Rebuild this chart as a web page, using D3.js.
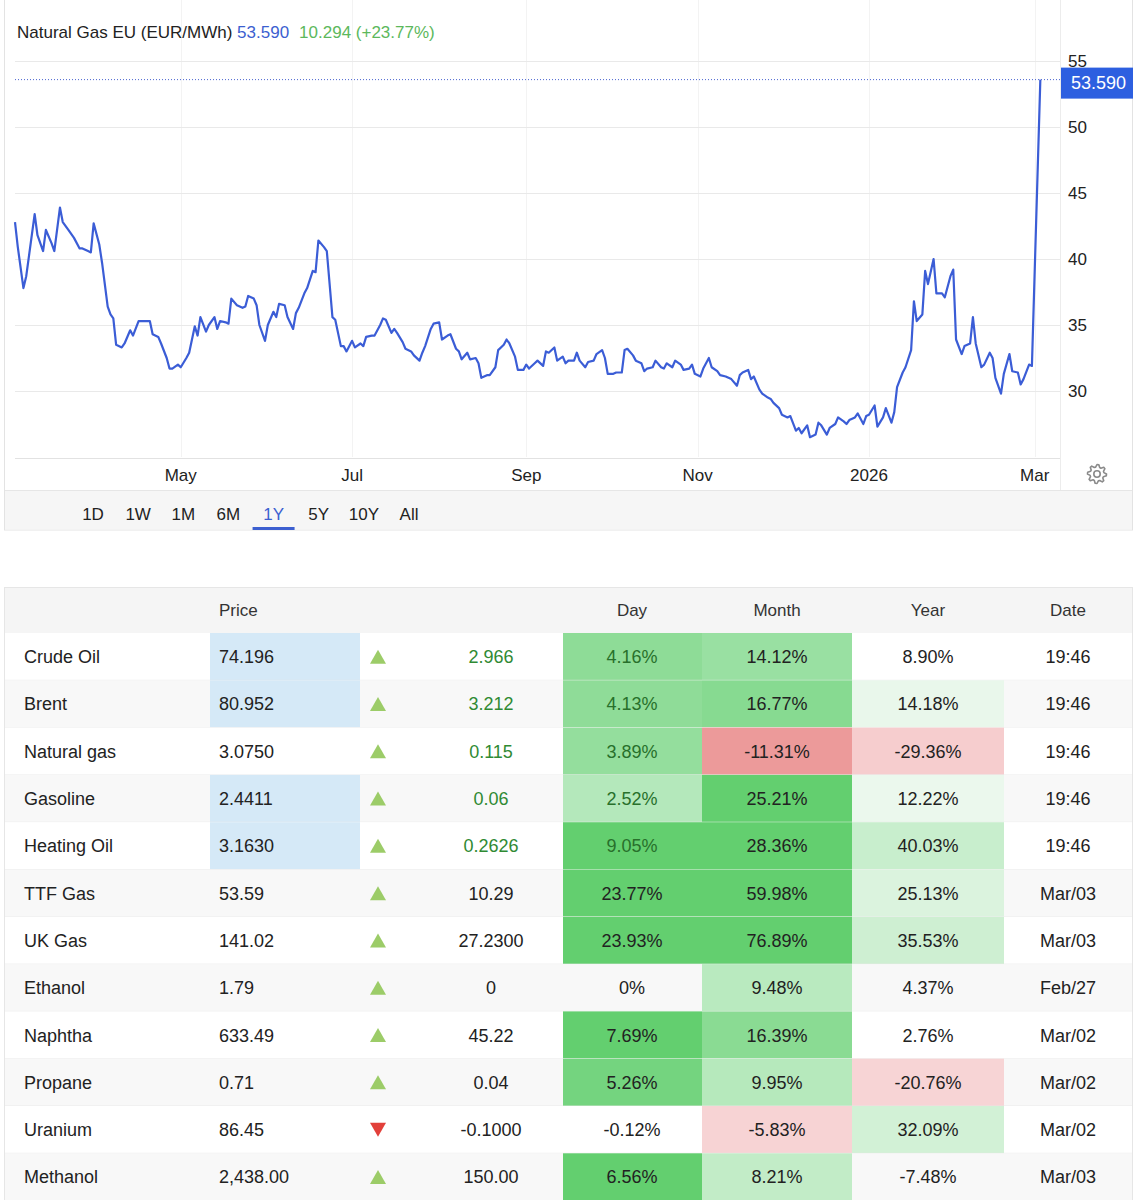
<!DOCTYPE html>
<html>
<head>
<meta charset="utf-8">
<script src="https://cdn.jsdelivr.net/npm/d3@7"></script>
<style>
	body { margin: 0; background: #fff; }
	svg text { font-family: "Liberation Sans", Arial, sans-serif; }
</style>
</head>
<body>
<div id="wrapper"></div>
<script>

// 1. Data

const title = "Natural Gas EU (EUR/MWh)";
const lastPrice = 53.590;
const lastChange = 10.294;
const lastChangePct = 23.77;

const priceDates = [
	"2025-03-03","2025-03-04","2025-03-06","2025-03-07","2025-03-10","2025-03-11","2025-03-13","2025-03-14","2025-03-16","2025-03-17",
	"2025-03-19","2025-03-20","2025-03-22","2025-03-24","2025-03-26","2025-03-27","2025-03-29","2025-03-30","2025-03-31","2025-04-02",
	"2025-04-03","2025-04-05","2025-04-06","2025-04-07","2025-04-08","2025-04-10","2025-04-11","2025-04-13","2025-04-14","2025-04-16",
	"2025-04-18","2025-04-20","2025-04-21","2025-04-23","2025-04-24","2025-04-26","2025-04-27","2025-04-28","2025-04-30","2025-05-01",
	"2025-05-03","2025-05-04","2025-05-06","2025-05-07","2025-05-08","2025-05-10","2025-05-11","2025-05-13","2025-05-14","2025-05-15",
	"2025-05-17","2025-05-18","2025-05-19","2025-05-21","2025-05-23","2025-05-24","2025-05-25","2025-05-27","2025-05-28","2025-05-29",
	"2025-05-31","2025-06-01","2025-06-03","2025-06-04","2025-06-05","2025-06-07","2025-06-08","2025-06-10","2025-06-11","2025-06-12",
	"2025-06-14","2025-06-15","2025-06-17","2025-06-18","2025-06-19","2025-06-21","2025-06-22","2025-06-24","2025-06-25","2025-06-27",
	"2025-06-28","2025-06-29","2025-07-01","2025-07-02","2025-07-04","2025-07-05","2025-07-06","2025-07-08","2025-07-09","2025-07-11",
	"2025-07-12","2025-07-13","2025-07-15","2025-07-16","2025-07-17","2025-07-19","2025-07-20","2025-07-22","2025-07-23","2025-07-25",
	"2025-07-26","2025-07-27","2025-07-29","2025-07-30","2025-08-01","2025-08-02","2025-08-04","2025-08-05","2025-08-07","2025-08-08",
	"2025-08-09","2025-08-11","2025-08-12","2025-08-14","2025-08-15","2025-08-16","2025-08-18","2025-08-19","2025-08-21","2025-08-22",
	"2025-08-24","2025-08-25","2025-08-26","2025-08-28","2025-08-29","2025-08-31","2025-09-01","2025-09-02","2025-09-04","2025-09-05",
	"2025-09-07","2025-09-08","2025-09-09","2025-09-11","2025-09-12","2025-09-14","2025-09-15","2025-09-16","2025-09-18","2025-09-19",
	"2025-09-20","2025-09-22","2025-09-23","2025-09-25","2025-09-26","2025-09-28","2025-09-29","2025-09-30","2025-10-02","2025-10-03",
	"2025-10-05","2025-10-06","2025-10-07","2025-10-09","2025-10-10","2025-10-12","2025-10-13","2025-10-14","2025-10-16","2025-10-17",
	"2025-10-19","2025-10-20","2025-10-21","2025-10-23","2025-10-24","2025-10-26","2025-10-27","2025-10-29","2025-10-30","2025-10-31",
	"2025-11-02","2025-11-03","2025-11-05","2025-11-06","2025-11-08","2025-11-09","2025-11-11","2025-11-12","2025-11-13","2025-11-15",
	"2025-11-16","2025-11-17","2025-11-19","2025-11-20","2025-11-21","2025-11-23","2025-11-24","2025-11-26","2025-11-27","2025-11-28",
	"2025-11-30","2025-12-01","2025-12-03","2025-12-04","2025-12-06","2025-12-07","2025-12-08","2025-12-10","2025-12-11","2025-12-13",
	"2025-12-14","2025-12-15","2025-12-17","2025-12-18","2025-12-20","2025-12-21","2025-12-23","2025-12-24","2025-12-25","2025-12-27",
	"2025-12-28","2025-12-30","2025-12-31","2026-01-01","2026-01-03","2026-01-04","2026-01-06","2026-01-07","2026-01-09","2026-01-10",
	"2026-01-11","2026-01-13","2026-01-14","2026-01-16","2026-01-17","2026-01-18","2026-01-20","2026-01-21","2026-01-22","2026-01-24",
	"2026-01-25","2026-01-27","2026-01-28","2026-01-30","2026-01-31","2026-02-01","2026-02-03","2026-02-04","2026-02-06","2026-02-07",
	"2026-02-08","2026-02-10","2026-02-11","2026-02-13","2026-02-14","2026-02-15","2026-02-17","2026-02-18","2026-02-20","2026-02-21",
	"2026-02-23","2026-02-24","2026-02-25","2026-02-27","2026-02-28","2026-03-03"
];

const priceValues = [
	42.8,40.9,37.8,38.7,43.4,41.8,40.6,42.2,41.2,40.6,
	43.9,42.8,42.2,41.6,40.8,40.8,40.6,40.5,42.7,41.1,
	39.7,36.4,35.8,35.5,33.5,33.3,33.6,34.6,34.2,35.3,
	35.3,35.3,34.3,34.1,33.6,32.5,31.7,31.7,32.0,31.8,
	32.5,32.9,34.9,34.2,35.6,34.5,35.0,35.6,34.7,35.3,
	35.2,35.1,37.0,36.5,36.3,36.4,37.2,37.0,36.5,35.0,
	33.8,35.0,36.0,35.6,36.6,36.5,35.6,34.7,35.9,36.3,
	37.4,37.8,39.1,39.0,41.4,40.9,40.6,35.6,35.4,33.4,
	33.4,33.0,33.8,33.3,33.6,33.4,34.1,34.2,34.2,35.0,
	35.5,35.4,34.4,34.7,34.4,33.7,33.2,33.0,32.7,32.3,
	32.9,33.4,34.7,35.1,35.2,33.9,34.2,34.3,33.2,33.0,
	32.4,32.9,32.4,32.5,32.1,31.0,31.2,31.2,31.8,33.1,
	33.5,33.9,33.6,32.6,31.6,31.6,32.0,31.7,32.1,32.3,
	31.9,33.0,32.9,33.3,32.3,32.6,32.1,32.3,32.3,32.9,
	32.3,31.8,32.2,32.3,32.8,33.1,32.5,31.3,31.3,31.4,
	31.4,33.1,33.2,32.7,32.3,32.1,31.5,31.7,31.8,32.3,
	31.8,31.7,32.1,31.8,32.3,32.0,31.6,31.7,32.0,31.3,
	31.1,31.7,32.5,31.8,31.5,31.2,31.1,31.0,30.9,30.4,
	31.2,31.4,31.6,30.9,31.1,30.1,29.8,29.5,29.4,29.1,
	28.7,28.2,28.0,28.1,27.0,27.2,26.8,27.4,26.5,26.7,
	27.6,27.4,26.7,27.2,27.5,28.0,27.7,27.5,27.8,28.0,
	28.3,27.5,28.1,28.2,28.9,27.3,28.0,28.7,27.6,28.4,
	30.3,31.4,31.8,33.1,36.8,35.3,35.8,39.1,38.1,40.0,
	37.4,37.4,37.1,38.7,39.2,33.9,32.8,33.4,33.6,35.6,
	33.6,31.8,32.0,32.9,32.5,31.0,29.8,31.3,32.8,31.5,
	31.4,30.5,30.9,32.0,31.9,53.59
];

const yTicks = [30, 35, 40, 45, 50, 55];
const xTickDates = ["2025-05-01", "2025-07-01", "2025-09-01", "2025-11-01", "2026-01-01", "2026-03-01"];
const xTickLabels = ["May", "Jul", "Sep", "Nov", "2026", "Mar"];
const ranges = ["1D", "1W", "1M", "6M", "1Y", "5Y", "10Y", "All"];
const activeRange = "1Y";

const tableHeaders = ["Price", "Day", "Month", "Year", "Date"];
const names = ["Crude Oil", "Brent", "Natural gas", "Gasoline", "Heating Oil", "TTF Gas", "UK Gas", "Ethanol", "Naphtha", "Propane", "Uranium", "Methanol"];
const prices = ["74.196", "80.952", "3.0750", "2.4411", "3.1630", "53.59", "141.02", "1.79", "633.49", "0.71", "86.45", "2,438.00"];
const changes = ["2.966", "3.212", "0.115", "0.06", "0.2626", "10.29", "27.2300", "0", "45.22", "0.04", "-0.1000", "150.00"];
const dayPct = [4.16, 4.13, 3.89, 2.52, 9.05, 23.77, 23.93, 0, 7.69, 5.26, -0.12, 6.56];
const monthPct = [14.12, 16.77, -11.31, 25.21, 28.36, 59.98, 76.89, 9.48, 16.39, 9.95, -5.83, 8.21];
const yearPct = [8.90, 14.18, -29.36, 12.22, 40.03, 25.13, 35.53, 4.37, 2.76, -20.76, 32.09, -7.48];
const rowDates = ["19:46", "19:46", "19:46", "19:46", "19:46", "Mar/03", "Mar/03", "Feb/27", "Mar/02", "Mar/02", "Mar/02", "Mar/03"];
const liveRows = [true, true, true, true, true, false, false, false, false, false, false, false];
const priceFlash = [true, true, false, true, true, false, false, false, false, false, false, false];

function drawPage() {

	// 2. Dimensions

	const width = 1136;
	const height = 1200;
	const plot = { left: 15, right: 1060, top: 61, bottom: 457 };
	const parse = d3.timeParse("%Y-%m-%d");

	const svg = d3.select("#wrapper")
		.append("svg")
		.attr("width", width)
		.attr("height", height);

	// 3. Chart panel frame

	svg.append("rect")
		.attr("x", 4.5).attr("y", -1)
		.attr("width", 1128).attr("height", 531)
		.attr("fill", "#fff").attr("stroke", "#e3e3e3");
	svg.append("rect")
		.attr("x", 5).attr("y", 490.5)
		.attr("width", 1127).attr("height", 39)
		.attr("fill", "#f6f6f6");
	svg.append("line")
		.attr("x1", 5).attr("x2", 1132).attr("y1", 490.5).attr("y2", 490.5)
		.attr("stroke", "#e6e6e6");
	svg.append("line")
		.attr("x1", 1060.5).attr("x2", 1060.5).attr("y1", 0).attr("y2", 490)
		.attr("stroke", "#ececec");

	// 4. Scales

	const data = priceDates.map((d, i) => ({ date: parse(d), value: priceValues[i] }));

	const xScale = d3.scaleTime()
		.domain([parse("2025-03-03"), parse("2026-03-10")])
		.range([plot.left, plot.right]);

	const yScale = d3.scaleLinear()
		.domain([25, 55])
		.range([plot.bottom, plot.top]);

	// 5. Grid and axes

	const grid = svg.append("g");
	grid.selectAll(".vgrid")
		.data(xTickDates)
		.enter()
		.append("line")
		.attr("x1", d => Math.round(xScale(parse(d))) + 0.5)
		.attr("x2", d => Math.round(xScale(parse(d))) + 0.5)
		.attr("y1", 0).attr("y2", plot.bottom)
		.attr("stroke", "#f3f3f3");

	grid.selectAll(".hgrid")
		.data(yTicks)
		.enter()
		.append("line")
		.attr("x1", plot.left).attr("x2", plot.right)
		.attr("y1", d => Math.round(yScale(d)) + 0.5)
		.attr("y2", d => Math.round(yScale(d)) + 0.5)
		.attr("stroke", "#e9e9e9");

	svg.append("line")
		.attr("x1", plot.left).attr("x2", plot.right)
		.attr("y1", plot.bottom + 1.5).attr("y2", plot.bottom + 1.5)
		.attr("stroke", "#e2e2e2");

	svg.selectAll(".ylabel")
		.data(yTicks)
		.enter()
		.append("text")
		.attr("x", 1068)
		.attr("y", d => yScale(d) + 6)
		.attr("font-size", 17)
		.attr("fill", "#222")
		.text(d => d);

	svg.selectAll(".xlabel")
		.data(xTickDates)
		.enter()
		.append("text")
		.attr("x", d => xScale(parse(d)))
		.attr("y", 481)
		.attr("text-anchor", "middle")
		.attr("font-size", 17)
		.attr("fill", "#222")
		.text((d, i) => xTickLabels[i]);

	// 6. Line

	svg.append("line")
		.attr("x1", plot.left).attr("x2", plot.right)
		.attr("y1", yScale(lastPrice)).attr("y2", yScale(lastPrice))
		.attr("stroke", "#4a63d0")
		.attr("stroke-width", 1)
		.attr("stroke-dasharray", "1,2");

	svg.append("path")
		.datum(data)
		.attr("fill", "none")
		.attr("stroke", "#3b5dd6")
		.attr("stroke-width", 2.2)
		.attr("stroke-linejoin", "round")
		.attr("d", d3.line().x(d => xScale(d.date)).y(d => yScale(d.value)));

	svg.append("rect")
		.attr("x", 1061).attr("y", yScale(lastPrice) - 12)
		.attr("width", 72).attr("height", 31)
		.attr("fill", "#2d5fe0");
	svg.append("text")
		.attr("x", 1071).attr("y", yScale(lastPrice) + 9.5)
		.attr("font-size", 18)
		.attr("fill", "#fff")
		.text(lastPrice.toFixed(3));

	// 7. Title

	const t = svg.append("text")
		.attr("x", 17).attr("y", 38)
		.attr("font-size", 17);
	t.append("tspan").attr("fill", "#222").text(title + " ");
	t.append("tspan").attr("fill", "#3c5fd0").text(lastPrice.toFixed(3));
	t.append("tspan").attr("fill", "#5cb85c").attr("dx", 10)
		.text(`${lastChange.toFixed(3)} (+${lastChangePct.toFixed(2)}%)`);

	// 8. Gear icon

	const gear = d3.path();
	const teeth = 8, rOut = 9.5, rIn = 7;
	for (let i = 0; i < teeth * 4; i++) {
		const a = (i / (teeth * 4)) * 2 * Math.PI - Math.PI / 2;
		const r = (i % 4 < 2) ? rOut : rIn;
		const px = r * Math.cos(a), py = r * Math.sin(a);
		if (i === 0) gear.moveTo(px, py); else gear.lineTo(px, py);
	}
	gear.closePath();
	const g = svg.append("g").attr("transform", "translate(1097,474)");
	g.append("path").attr("d", gear.toString()).attr("fill", "none").attr("stroke", "#8a8a8a").attr("stroke-width", 1.6).attr("stroke-linejoin", "round");
	g.append("circle").attr("r", 3.2).attr("fill", "none").attr("stroke", "#8a8a8a").attr("stroke-width", 1.6);

	// 9. Range buttons

	const rangeX = d3.scalePoint().domain(ranges).range([93, 409]);
	svg.selectAll(".range")
		.data(ranges)
		.enter()
		.append("text")
		.attr("x", d => rangeX(d))
		.attr("y", 520)
		.attr("text-anchor", "middle")
		.attr("font-size", 17)
		.attr("fill", d => d === activeRange ? "#3c5fd0" : "#222")
		.text(d => d);
	svg.append("rect")
		.attr("x", rangeX(activeRange) - 21).attr("y", 527)
		.attr("width", 42).attr("height", 3)
		.attr("fill", "#3c5fd0");

	// 10. Table

	const tableTop = 587;
	const headerH = 46;
	const rowH = 47.3;
	const left = 4, right = 1133;
	const cols = {
		price: { x: 210, w: 150 },
		day: { x: 563, w: 139 },
		month: { x: 702, w: 150 },
		year: { x: 852, w: 152 },
	};

	const fmtPct = v => v === 0 ? "0%" : v.toFixed(2) + "%";
	const heat = (pos, neg, posRange) => {
		const green = d3.scaleLinear().domain(pos).range(posRange).clamp(true);
		const red = d3.scaleLinear().domain(neg).range(["#f9dcdd", "#e57373"]).clamp(true);
		return v => v >= pos[0] ? green(v) : v <= neg[0] ? red(v) : "none";
	};
	const dayColor = heat([1, 6], [-1, -6], ["#d8f3dc", "#63cf6f"]);
	const monthColor = heat([5, 22], [-5, -15], ["#d8f3dc", "#63cf6f"]);
	const yearColor = heat([10, 120], [-10, -150], ["#eef9f0", "#63cf6f"]);

	svg.append("rect")
		.attr("x", left + 0.5).attr("y", tableTop + 0.5)
		.attr("width", right - left - 1).attr("height", headerH)
		.attr("fill", "#f5f5f5").attr("stroke", "#e6e6e6");

	const headerX = [219, 632, 777, 928, 1068];
	svg.selectAll(".th")
		.data(tableHeaders)
		.enter()
		.append("text")
		.attr("x", (d, i) => headerX[i])
		.attr("y", tableTop + headerH / 2 + 6)
		.attr("text-anchor", (d, i) => i === 0 ? "start" : "middle")
		.attr("font-size", 17)
		.attr("fill", "#333")
		.text(d => d);

	const rows = svg.selectAll(".row")
		.data(names)
		.enter()
		.append("g")
		.attr("transform", (d, i) => `translate(0,${tableTop + headerH + i * rowH})`);

	rows.append("rect")
		.attr("x", left).attr("width", right - left).attr("height", rowH)
		.attr("fill", (d, i) => i % 2 ? "#f8f8f8" : "#fff");

	rows.append("rect")
		.attr("x", cols.price.x).attr("width", cols.price.w).attr("height", rowH)
		.attr("fill", (d, i) => priceFlash[i] ? "#d5e9f7" : "none");
	rows.append("rect")
		.attr("x", cols.day.x).attr("width", cols.day.w).attr("height", rowH)
		.attr("fill", (d, i) => dayColor(dayPct[i]));
	rows.append("rect")
		.attr("x", cols.month.x).attr("width", cols.month.w).attr("height", rowH)
		.attr("fill", (d, i) => monthColor(monthPct[i]));
	rows.append("rect")
		.attr("x", cols.year.x).attr("width", cols.year.w).attr("height", rowH)
		.attr("fill", (d, i) => yearColor(yearPct[i]));

	rows.append("line")
		.attr("x1", left).attr("x2", right)
		.attr("y1", rowH).attr("y2", rowH)
		.attr("stroke", "#e8e8e8")
		.attr("stroke-opacity", 0.8);

	const baseY = rowH / 2 + 6.5;
	const cellText = (x, anchor, fn, color) => rows.append("text")
		.attr("x", x).attr("y", baseY)
		.attr("text-anchor", anchor)
		.attr("font-size", 18)
		.attr("fill", color)
		.text(fn);

	cellText(24, "start", d => d, "#222");
	cellText(219, "start", (d, i) => prices[i], "#222");
	cellText(491, "middle", (d, i) => changes[i], "#222")
		.attr("fill", (d, i) => liveRows[i] ? "#2f8a33" : "#222");
	cellText(632, "middle", (d, i) => fmtPct(dayPct[i]), "#222")
		.attr("fill", (d, i) => liveRows[i] ? "#28702b" : "#222");
	cellText(777, "middle", (d, i) => fmtPct(monthPct[i]), "#222");
	cellText(928, "middle", (d, i) => fmtPct(yearPct[i]), "#222");
	cellText(1068, "middle", (d, i) => rowDates[i], "#222");

	rows.append("path")
		.attr("transform", `translate(378,${rowH / 2})`)
		.attr("d", (d, i) => changes[i].startsWith("-") ? "M-8,-7L8,-7L0,7Z" : "M-8,7L8,7L0,-7Z")
		.attr("fill", (d, i) => changes[i].startsWith("-") ? "#e2403a" : "#9ccc68");

	svg.append("line")
		.attr("x1", left + 0.5).attr("x2", left + 0.5)
		.attr("y1", tableTop).attr("y2", height)
		.attr("stroke", "#e6e6e6");
	svg.append("line")
		.attr("x1", right - 0.5).attr("x2", right - 0.5)
		.attr("y1", tableTop).attr("y2", height)
		.attr("stroke", "#e6e6e6");
}

drawPage();
</script>
</body>
</html>
